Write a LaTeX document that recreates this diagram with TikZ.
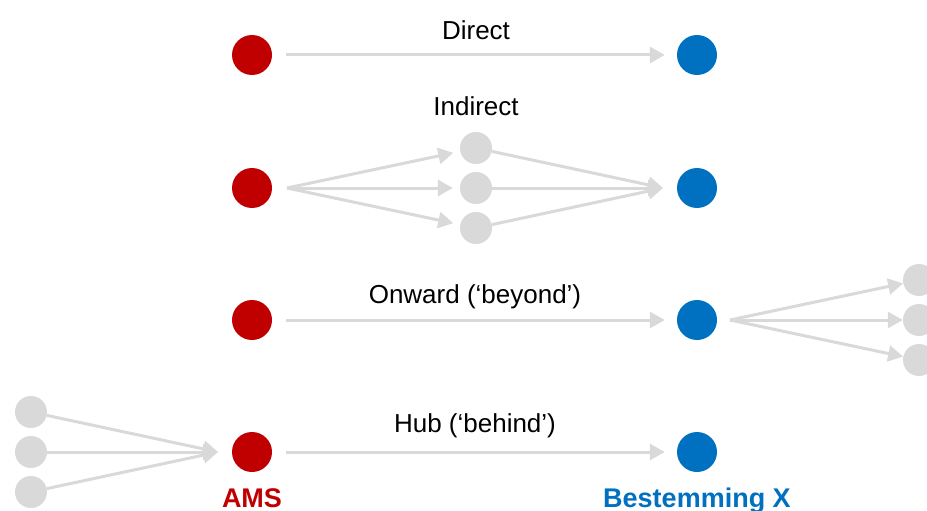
\documentclass[tikz,border=0pt]{standalone}
\usepackage{fontspec}
\setmainfont{Liberation Sans}
\usetikzlibrary{arrows.meta,positioning}
\definecolor{amsred}{HTML}{C00000}
\definecolor{destblue}{HTML}{0070C0}
\definecolor{hopgray}{HTML}{D9D9D9}
\tikzset{origin/.style={circle,fill=amsred,minimum size=40pt,inner sep=0pt},
dest/.style={circle,fill=destblue,minimum size=40pt,inner sep=0pt},
hop/.style={circle,fill=hopgray,minimum size=32pt,inner sep=0pt},
route/.style={draw,color=hopgray,line width=3pt,-{Triangle[length=15pt,width=16pt]}},
lbl/.style={font=\fontsize{26}{30}\selectfont,anchor=base,inner sep=0pt},
city/.style={font=\fontsize{27}{30}\selectfont\bfseries,anchor=base,inner sep=0pt}
}

\begin{document}
\begin{tikzpicture}[x=1pt,y=-1pt,node distance=40pt,on grid,
                    every edge/.style={route}]
    \useasboundingbox (0,0) rectangle (927,511);

    % direct
    \node[origin] (dir-a) at (252,55)  {};
    \node[dest]   (dir-b) at (697,55)  {};
    \node[lbl]    (dir-l) at (476,40)  {Direct};

    % indirect
    \node[origin] (ind-a)  at (252,188) {};
    \node[dest]   (ind-b)  at (697,188) {};
    \node[hop]    (ind-s2) at (476,188) {};
    \node[hop]    (ind-s1) [above=of ind-s2] {};
    \node[hop]    (ind-s3) [below=of ind-s2] {};
    \node[lbl]    (ind-l)  at (476,115) {Indirect};

    % onward
    \node[origin] (onw-a)  at (252,320) {};
    \node[dest]   (onw-b)  at (697,320) {};
    \node[hop]    (onw-s2) at (919,320) {};
    \node[hop]    (onw-s1) [above=of onw-s2] {};
    \node[hop]    (onw-s3) [below=of onw-s2] {};
    \node[lbl]    (onw-l)  at (475,303) {Onward (‘beyond’)};

    % hub
    \node[origin] (hub-a)  at (252,452) {};
    \node[dest]   (hub-b)  at (697,452) {};
    \node[hop]    (hub-s2) at (31,452)  {};
    \node[hop]    (hub-s1) [above=of hub-s2] {};
    \node[hop]    (hub-s3) [below=of hub-s2] {};
    \node[lbl]    (hub-l)  at (475,432) {Hub (‘behind’)};

    \node[city,text=amsred]   (ams)  at (252,507) {AMS};
    \node[city,text=destblue] (best) at (697,507) {Bestemming X};

    \path (dir-a) edge [shorten <=14pt,shorten >=12pt] (dir-b)
          (onw-a) edge [shorten <=14pt,shorten >=12pt] (onw-b)
          (hub-a) edge [shorten <=14pt,shorten >=12pt] (hub-b);

    \path ([xshift=35pt]ind-a.center) edge [shorten >=7pt] (ind-s1)
                                      edge [shorten >=7pt] (ind-s2)
                                      edge [shorten >=7pt] (ind-s3)
          (ind-s1) edge ([xshift=-34pt]ind-b.center)
          (ind-s2) edge ([xshift=-34pt]ind-b.center)
          (ind-s3) edge ([xshift=-34pt]ind-b.center)
          ([xshift=33pt]onw-b.center) edge (onw-s1)
                                      edge (onw-s2)
                                      edge (onw-s3)
          (hub-s1) edge ([xshift=-34pt]hub-a.center)
          (hub-s2) edge ([xshift=-34pt]hub-a.center)
          (hub-s3) edge ([xshift=-34pt]hub-a.center);
\end{tikzpicture}
\end{document}
